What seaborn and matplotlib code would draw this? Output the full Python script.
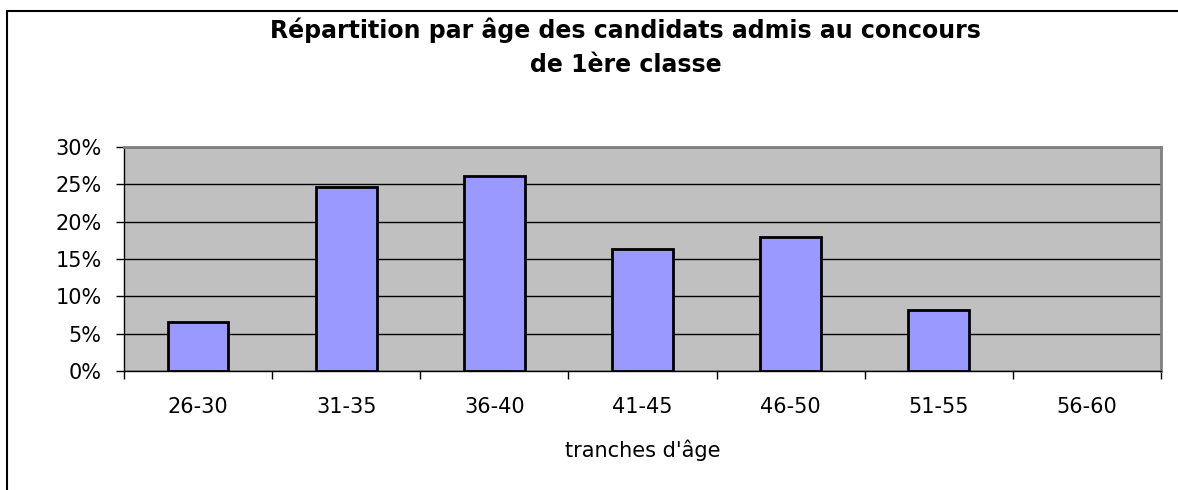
import matplotlib
matplotlib.use("Agg")

import numpy as np
import pandas as pd
import matplotlib.pyplot as plt
from matplotlib.ticker import PercentFormatter, FixedLocator, NullFormatter
from matplotlib.lines import Line2D
import seaborn as sns


tranches = ["26-30", "31-35", "36-40", "41-45", "46-50", "51-55", "56-60"]
parts = [0.066, 0.247, 0.261, 0.164, 0.180, 0.082, 0.0]

TITLE = "Répartition par âge des candidats admis au concours\nde 1ère classe"
XLABEL = "tranches d'âge"


def main():

    sns.set_theme(style="white")
    plt.rcParams["font.family"] = ["DejaVu Sans"]
    plt.rcParams["text.color"] = "black"
    plt.rcParams["axes.labelcolor"] = "black"
    plt.rcParams["xtick.color"] = "black"
    plt.rcParams["ytick.color"] = "black"

    df = pd.DataFrame({"tranche": tranches, "part": parts})

    fig = plt.figure(figsize=(11.78, 4.9), dpi=100)
    ax = fig.add_axes([0.1053, 0.2429, 0.8803, 0.4571])

    sns.barplot(
        data=df,
        x="tranche",
        y="part",
        color="#9999FF",
        saturation=1,
        width=0.41,
        edgecolor="black",
        linewidth=2,
        ax=ax,
        zorder=3
    )

    # empty bars leave no outline
    for patch in ax.patches:
        if patch.get_height() == 0:
            patch.set_linewidth(0)

    ax.set_facecolor("#C0C0C0")
    ax.set_xlim(-0.5, len(tranches) - 0.5)
    ax.set_ylim(0, 0.30)

    # -----------------------
    # y axis
    # -----------------------

    ax.set_yticks(np.arange(0, 0.301, 0.05))
    ax.yaxis.set_major_formatter(PercentFormatter(xmax=1, decimals=0))
    ax.yaxis.grid(True, color="black", linewidth=1)
    ax.set_axisbelow(True)

    # -----------------------
    # x axis : ticks between categories
    # -----------------------

    ax.xaxis.set_minor_locator(
        FixedLocator(np.arange(-0.5, len(tranches), 1.0))
    )
    ax.xaxis.set_minor_formatter(NullFormatter())
    ax.tick_params(axis="x", which="major", length=0, pad=19, labelsize=15)
    ax.tick_params(axis="x", which="minor", length=6, width=1,
                   color="black", bottom=True, direction="out")
    ax.tick_params(axis="y", which="major", length=6, width=1,
                   color="black", left=True, direction="out",
                   labelsize=15, pad=10)

    for side in ["top", "right"]:
        ax.spines[side].set_color("#808080")
        ax.spines[side].set_linewidth(2)
    for side in ["left", "bottom"]:
        ax.spines[side].set_color("black")
        ax.spines[side].set_linewidth(1)

    ax.set_xlabel(XLABEL, fontsize=15, labelpad=16)
    ax.set_ylabel("")

    fig.text(
        0.531, 0.904,
        TITLE,
        ha="center",
        va="center",
        fontsize=17,
        fontweight="bold",
        linespacing=1.55
    )

    # chart frame, cut at right and bottom
    fig.add_artist(Line2D([0.006, 0.006], [0.0, 0.977],
                          transform=fig.transFigure, color="black", lw=1.5))
    fig.add_artist(Line2D([0.006, 1.0], [0.977, 0.977],
                          transform=fig.transFigure, color="black", lw=1.5))

    fig.savefig("out.png", dpi=100)
    plt.close(fig)


if __name__ == "__main__":
    main()
